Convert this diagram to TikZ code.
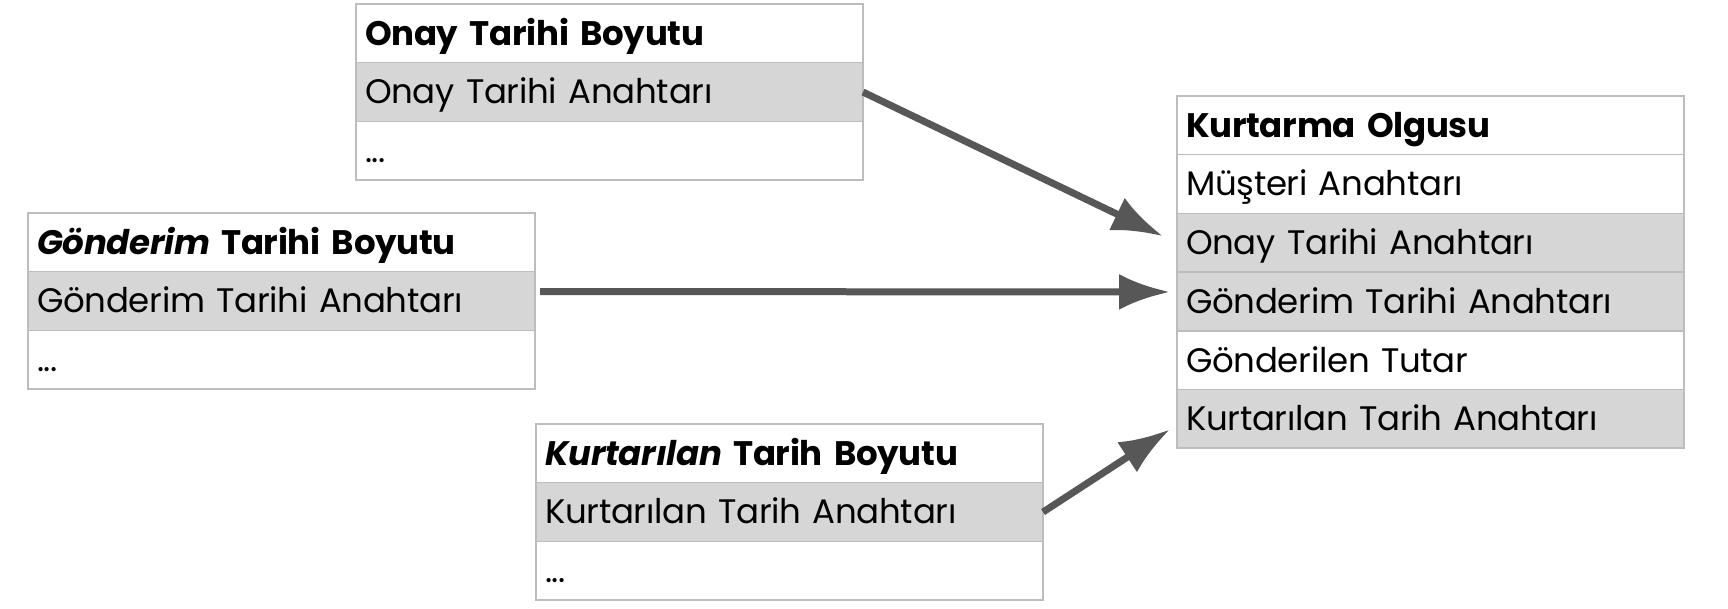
\documentclass[tikz,border=0pt]{standalone}
\usepackage{fontspec}
\setmainfont[LetterSpace=-0.8]{Poppins}
\usetikzlibrary{positioning,arrows.meta}

\begin{document}
\begin{tikzpicture}[x=1pt, y=-1pt,
    row/.style={draw=black!26, line width=1.5pt, outer sep=0pt,
        minimum width=507pt, minimum height=58.7pt, text width=489pt,
        inner xsep=9pt, inner ysep=0pt, text height=41.2pt, text depth=17.5pt,
        anchor=north west, align=left, font=\fontsize{34}{40}\selectfont},
    head/.style={row, fill=white, font=\fontsize{34}{40}\selectfont\bfseries},
    keyrow/.style={row, fill=black!16},
    plainrow/.style={row, fill=white},
    link/.style={draw=black!66, line width=7pt, -{Latex[length=51pt,width=36pt]}}]
                \useasboundingbox (0, 0) rectangle (1728, 608);
                % Onay Tarihi Boyutu
                \node [head] (ohead) at (356, 4) {Onay Tarihi Boyutu};
                \node [keyrow, below=0pt of ohead] (okey) {Onay Tarihi Anahtarı};
                \node [plainrow, below=0pt of okey] (odots) {...};
                % Gonderim Tarihi Boyutu
                \node [head] (ghead) at (28, 213) {\textit{Gönderim} Tarihi Boyutu};
                \node [keyrow, below=0pt of ghead] (gkey) {Gönderim Tarihi Anahtarı};
                \node [plainrow, below=0pt of gkey] (gdots) {...};
                % Kurtarilan Tarih Boyutu
                \node [head] (khead) at (536, 424) {\textit{Kurtarılan} Tarih Boyutu};
                \node [keyrow, below=0pt of khead] (kkey) {Kurtarılan Tarih Anahtarı};
                \node [plainrow, below=0pt of kkey] (kdots) {...};
                % Kurtarma Olgusu
                \node [head] (fhead) at (1177, 96) {Kurtarma Olgusu};
                \node [plainrow, below=0pt of fhead] (fcust) {Müşteri Anahtarı};
                \node [keyrow, below=0pt of fcust] (fonay) {Onay Tarihi Anahtarı};
                \node [keyrow, below=0pt of fonay] (fsend) {Gönderim Tarihi Anahtarı};
                \node [plainrow, below=0pt of fsend] (famount) {Gönderilen Tutar};
                \node [keyrow, below=0pt of famount] (fkurt) {Kurtarılan Tarih Anahtarı};
                % Arrows
                \draw [link] (okey.east) -- ([xshift=-14pt, yshift=6.5pt] fonay.west);
                \draw [link] ([xshift=5pt, yshift=9.5pt] gkey.east) -- ([xshift=-7pt, yshift=9.5pt] fsend.west);
                \draw [link] (kkey.east) -- ([xshift=-7pt, yshift=-10.5pt] fkurt.west);
            \end{tikzpicture}
\end{document}
